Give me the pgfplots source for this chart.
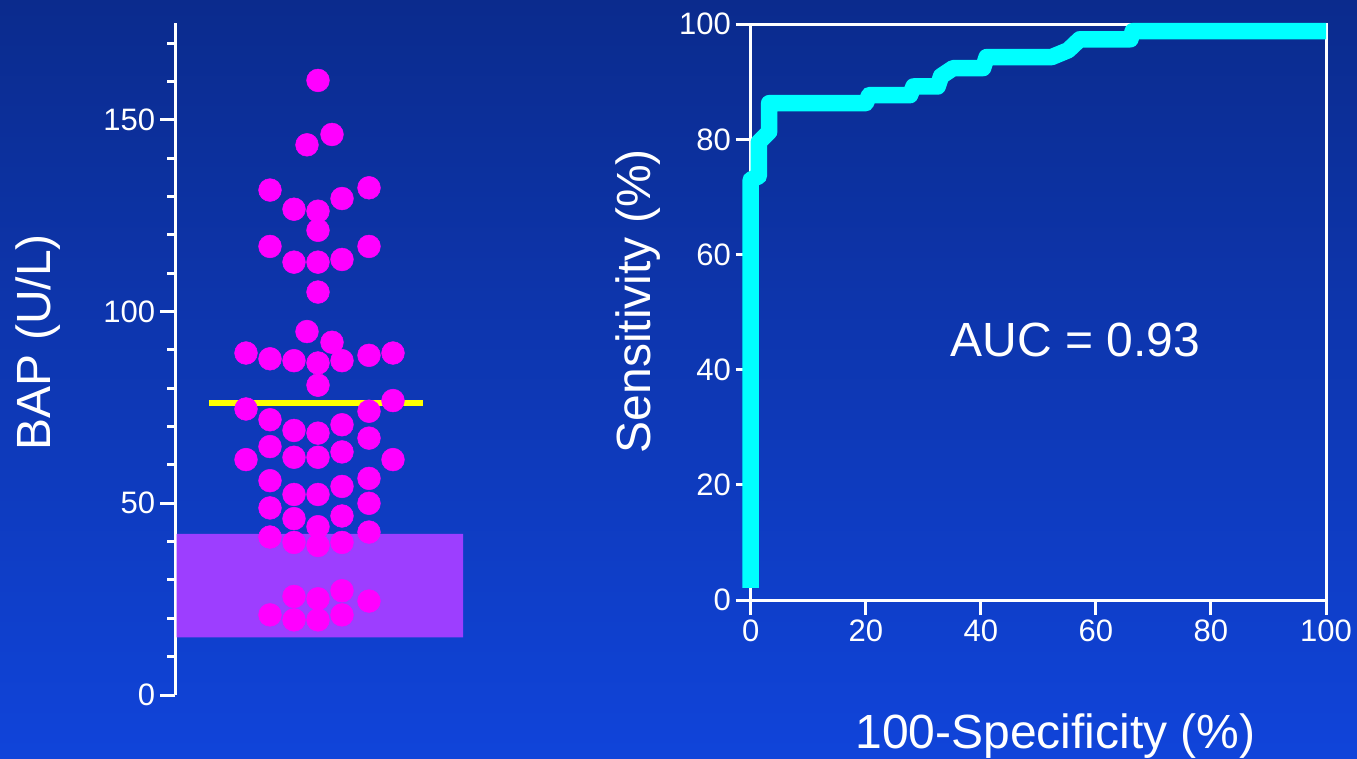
\documentclass[border=0pt]{standalone}
\usepackage{pgfplots}
\pgfplotsset{compat=1.18}
\usepackage{pgfplotstable}
\usepackage{fontspec}
\setmainfont{Liberation Sans}
\definecolor{bgtop}{RGB}{11,43,141}
\definecolor{bgbot}{RGB}{16,68,218}
\definecolor{magentaC}{RGB}{255,0,255}
\definecolor{purpC}{RGB}{157,62,255}
\definecolor{yellowC}{RGB}{255,255,0}
\definecolor{cyanC}{RGB}{0,255,255}

\pgfplotstableread{
x y
0 160.3
-11 143.5
14 146.2
-48 131.7
-24 126.7
0 126.2
24 129.5
51 132.3
0 121.2
-48 117.0
-24 112.9
0 112.9
24 113.6
51 117.0
0 105.1
-11 94.8
14 92.0
-72 89.2
-48 87.7
-24 87.2
0 86.6
24 87.2
51 88.6
75 89.2
0 80.8
-72 74.6
75 76.8
-48 71.8
-24 69.0
0 68.3
24 70.5
51 74.0
51 67.0
-48 64.8
-24 62.0
0 62.0
24 63.4
-72 61.4
75 61.4
-48 55.9
-24 52.3
0 52.3
24 54.4
51 56.5
51 50.0
-48 48.8
-24 46.0
0 43.9
24 46.7
51 42.5
-48 41.2
-24 39.8
0 39.0
24 39.8
-24 25.7
0 25.1
24 27.2
51 24.5
-48 20.9
-24 19.6
0 19.6
24 20.9
}\baptable

\pgfplotstableread{
x y
0 2.1
0 73
1.4 73.6
1.4 79.5
3.2 81.3
3.2 86.3
20 86.3
20.6 87.7
27.7 87.7
28.3 89.2
32.5 89.2
33.1 91.0
35.2 92.4
40.4 92.4
41 94.3
52.3 94.3
55.2 95.5
57.2 97.4
66 97.4
66.4 98.8
100 98.8
}\roctable

\pgfplotsset{
  every tick/.append style={white, line width=3pt},
  every major tick/.append style={white, line width=3pt},
  every minor tick/.append style={white, line width=3pt},
}

\begin{document}
\begin{tikzpicture}[x=1pt,y=1pt]
\shade[top color=bgtop, bottom color=bgbot] (0,0) rectangle (1357,758);
\begin{axis}[
  at={(175pt,63pt)}, anchor=south west,
  scale only axis, width=288pt, height=671.7pt,
  xmin=-143, xmax=145, ymin=0, ymax=175.2,
  axis x line=none, axis y line*=left,
  clip=false,
  line width=3pt,
  ytick={0,50,100,150},
  minor ytick={10,20,30,40,60,70,80,90,110,120,130,140,160,170},
  tick align=outside,
  major tick length=15pt, minor tick length=8pt,
  axis line style={white, line width=3pt},
  /pgf/number format/assume math mode=true,
  yticklabel style={font=\fontsize{31}{36}\selectfont, text=white},
  ylabel={BAP (U/L)},
  ylabel style={at={(axis description cs:-0.434,0.5255)}, anchor=base, font=\fontsize{48}{58}\selectfont, text=white},
]
\addplot[draw=none, fill=purpC] coordinates {(-141.5,15) (145,15) (145,42) (-141.5,42) (-141.5,15)};
\addplot[magentaC, only marks, mark=*, mark size=11.4pt, mark options={draw=magentaC, fill=magentaC, line width=0.5pt}] table {\baptable};
\addplot[yellowC, line width=6.5pt] coordinates {(-109,76.1) (104.7,76.1)};
\end{axis}
\begin{axis}[
  at={(750.7pt,158pt)}, anchor=south west,
  scale only axis, width=575.3pt, height=575.7pt,
  xmin=0, xmax=100, ymin=0, ymax=100,
  clip=false,
  line width=3pt,
  xtick={0,20,40,60,80,100}, ytick={0,20,40,60,80,100},
  tick pos=left, tick align=outside,
  major tick length=15pt,
  axis line style={white, line width=3pt},
  /pgf/number format/assume math mode=true,
  ticklabel style={font=\fontsize{31}{36}\selectfont, text=white},
  xlabel={100-Specificity (\%)},
  xlabel style={at={(axis description cs:0.5298,-0.2588)}, anchor=base, font=\fontsize{48}{58}\selectfont, text=white},
  ylabel={Sensitivity (\%)},
  ylabel style={at={(axis description cs:-0.175,0.519)}, anchor=base, font=\fontsize{48}{58}\selectfont, text=white},
]
\addplot[cyanC, line width=16.5pt, line join=round, line cap=butt] table {\roctable};
\node[anchor=base, text=white, font=\fontsize{48}{58}\selectfont] at (axis cs:56.46,42.38) {AUC = 0.93};
\end{axis}
\pgfresetboundingbox
\useasboundingbox (0,0) rectangle (1357,758);
\end{tikzpicture}
\end{document}
